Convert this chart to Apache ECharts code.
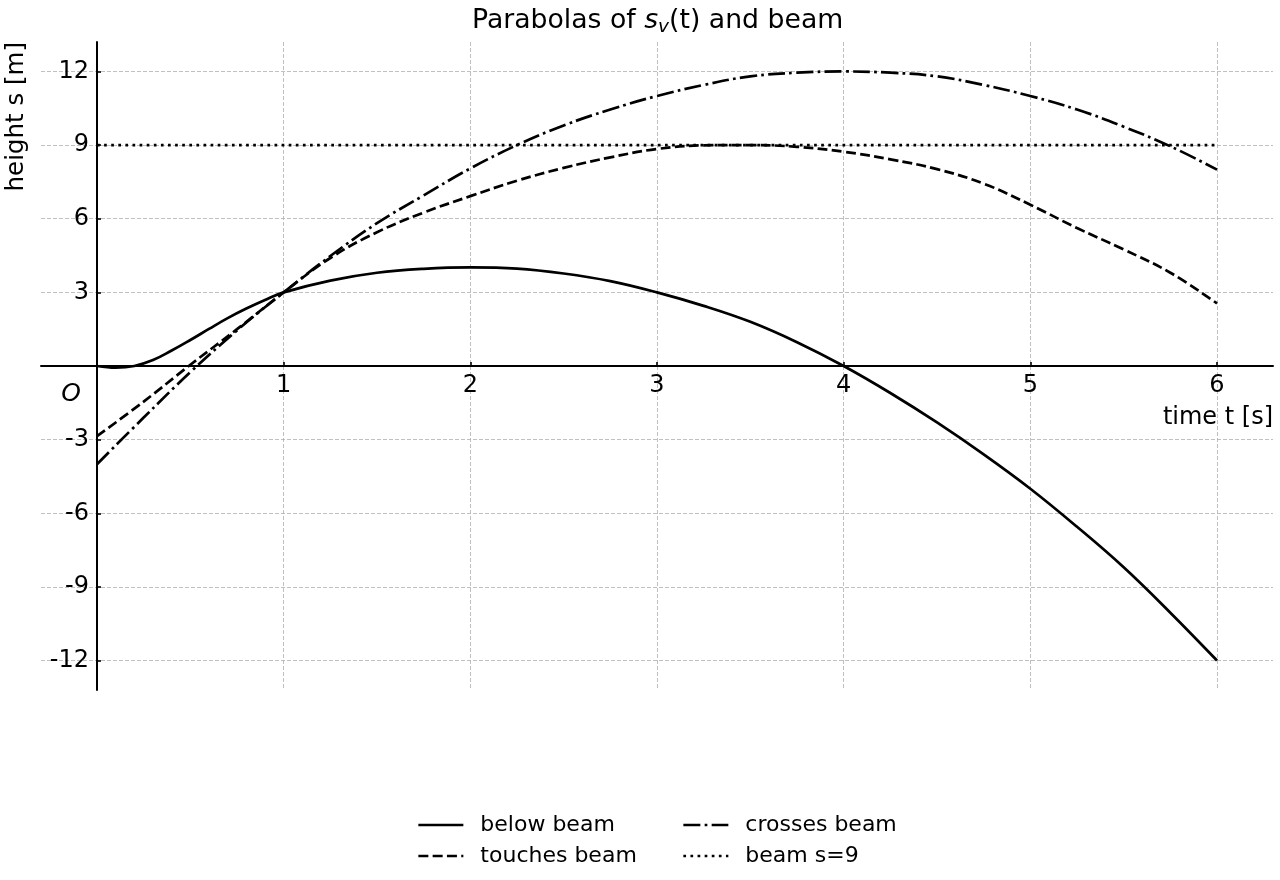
<!DOCTYPE html>
<html>
<head>
<meta charset="utf-8">
<script src="https://cdn.jsdelivr.net/npm/echarts@6/dist/echarts.min.js"></script>
<style>
html,body{margin:0;padding:0;background:#fff;}
#chart{width:1280px;height:880px;}
</style>
</head>
<body>
<div id="chart"></div>
<script>
// ---- data ----
const tBelow = [0,0.1,0.2,0.3,0.4,0.5,0.6,0.7,0.8,0.9,1,1.25,1.5,1.75,2,2.25,2.5,2.75,3,3.25,3.5,3.75,4,4.25,4.5,4.75,5,5.25,5.5,5.75,6];
const sBelow = [0,-0.07,0,0.24,0.63,1.06,1.51,1.95,2.34,2.69,3.0,3.48,3.8,3.96,4.02,3.97,3.77,3.46,3.0,2.45,1.8,0.97,0,-1.1,-2.3,-3.6,-5.0,-6.55,-8.2,-10.05,-12.0];

const tGrid = [0,0.25,0.5,0.75,1,1.25,1.5,1.75,2,2.25,2.5,2.75,3,3.25,3.5,3.75,4,4.25,4.5,4.75,5,5.25,5.5,5.75,6];
const sTouches = [-2.86,-1.45,0.05,1.5,3.0,4.4,5.45,6.25,6.92,7.55,8.07,8.5,8.84,8.99,9.0,8.93,8.73,8.42,8.02,7.43,6.57,5.62,4.75,3.8,2.55];
const sCrosses = [-4.0,-2.1,-0.25,1.45,3.0,4.48,5.82,6.95,8.05,9.0,9.8,10.45,11.0,11.45,11.8,11.95,12.0,11.95,11.8,11.45,11.0,10.45,9.75,8.95,8.0];

const tBeam = [0,6];
const sBeam = [9,9];

const xTicks = [1,2,3,4,5,6];
const xLabels = [0,1,2,3,4,5,6];
const yTicks = [-12,-9,-6,-3,3,6,9,12];

const seriesNames = ['below beam','touches beam','crosses beam','beam s=9'];

// ---- chart ----
const FONT = 'DejaVu Sans';
const zip = (a,b) => a.map((v,i)=>[v,b[i]]);
const LW = 2.7;
const X_MIN = -0.3, X_MAX = 6.3, Y_MIN = -13.2, Y_MAX = 13.2;
const G = {left:41, right:7, top:42, bottom:190};
const W = 1280 - G.left - G.right, H = 880 - G.top - G.bottom;
// axes cross at the origin (spines through zero)
const xOffset = -H * (0 - Y_MIN) / (Y_MAX - Y_MIN);
const yOffset = -W * (0 - X_MIN) / (X_MAX - X_MIN);

const chart = echarts.init(document.getElementById('chart'), null, {renderer:'canvas'});
const gridLine = {show:true, lineStyle:{color:'#b0b0b0', width:0.8, type:[4,2]}};
const legendCommon = {
  orient:'vertical', top:813, itemWidth:45, itemHeight:14, itemGap:7, padding:0,
  itemStyle:{color:'rgba(0,0,0,0)', borderColor:'rgba(0,0,0,0)', borderWidth:0, opacity:0},
  lineStyle:{width:LW},
  textStyle:{fontFamily:FONT, fontSize:22, color:'#000', lineHeight:24, padding:[0,0,0,12]}
};

chart.setOption({
  animation:false,
  backgroundColor:'#fff',
  title:{
    text:'{a|Parabolas of }{i|s}{sub|v}{a|(t) and beam}',
    left:467, top:1,
    textStyle:{
      fontWeight:'normal',
      rich:{
        a:{fontFamily:FONT, fontSize:26.7, fontWeight:'normal', color:'#000'},
        i:{fontFamily:FONT, fontSize:26.7, fontWeight:'normal', fontStyle:'italic', color:'#000'},
        sub:{fontFamily:FONT, fontSize:18.5, fontWeight:'normal', fontStyle:'italic', color:'#000', padding:[12,0,0,0]}
      }
    }
  },
  grid:Object.assign({containLabel:false, outerBoundsMode:'none'}, G),
  xAxis:{
    type:'value', min:X_MIN, max:X_MAX, position:'bottom', offset:xOffset,
    axisLine:{onZero:false, lineStyle:{color:'#000', width:2}},
    axisTick:{show:true, inside:true, length:4, customValues:xTicks, lineStyle:{color:'#000', width:1.6}},
    axisLabel:{
      customValues:xLabels, margin:8, color:'#000', fontFamily:FONT, fontSize:24,
      formatter: v => v === 0 ? '{o|O}' : String(v),
      rich:{o:{fontFamily:FONT, fontSize:25, fontStyle:'italic', color:'#000', padding:[8,52,0,0]}}
    },
    splitLine:gridLine,
    name:'time t [s]', nameLocation:'end', nameGap:0,
    nameTextStyle:{fontFamily:FONT, fontSize:24, color:'#000', align:'right', verticalAlign:'top', padding:[40,0,0,0]}
  },
  yAxis:{
    type:'value', min:Y_MIN, max:Y_MAX, position:'left', offset:yOffset,
    axisLine:{onZero:false, lineStyle:{color:'#000', width:2}},
    axisTick:{show:true, inside:true, length:4, customValues:yTicks, lineStyle:{color:'#000', width:1.6}},
    axisLabel:{customValues:yTicks, margin:8, color:'#000', fontFamily:FONT, fontSize:24},
    splitLine:gridLine
  },
  graphic:[{
    type:'text', x:17, y:42, rotation:Math.PI/2,
    style:{text:'height s [m]', fontFamily:FONT, fontSize:24.5, fill:'#000', align:'right', verticalAlign:'middle'}
  }],
  legend:[
    Object.assign({left:417, data:[seriesNames[0], seriesNames[1]]}, legendCommon),
    Object.assign({left:682, data:[seriesNames[2], seriesNames[3]]}, legendCommon)
  ],
  series:[
    {name:seriesNames[0], type:'line', data:zip(tBelow,sBelow), symbol:'none', smooth:0.4,
     lineStyle:{color:'#000', width:LW, type:'solid'}, itemStyle:{color:'#000'}, z:3},
    {name:seriesNames[1], type:'line', data:zip(tGrid,sTouches), symbol:'none', smooth:0.4,
     lineStyle:{color:'#000', width:LW, type:[10,4.3]}, itemStyle:{color:'#000'}, z:3},
    {name:seriesNames[2], type:'line', data:zip(tGrid,sCrosses), symbol:'none', smooth:0.4,
     lineStyle:{color:'#000', width:LW, type:[17,4.3,2.7,4.3]}, itemStyle:{color:'#000'}, z:3},
    {name:seriesNames[3], type:'line', data:zip(tBeam,sBeam), symbol:'none',
     lineStyle:{color:'#000', width:LW, type:[2.7,4.4]}, itemStyle:{color:'#000'}, z:3}
  ]
});
</script>
</body>
</html>
